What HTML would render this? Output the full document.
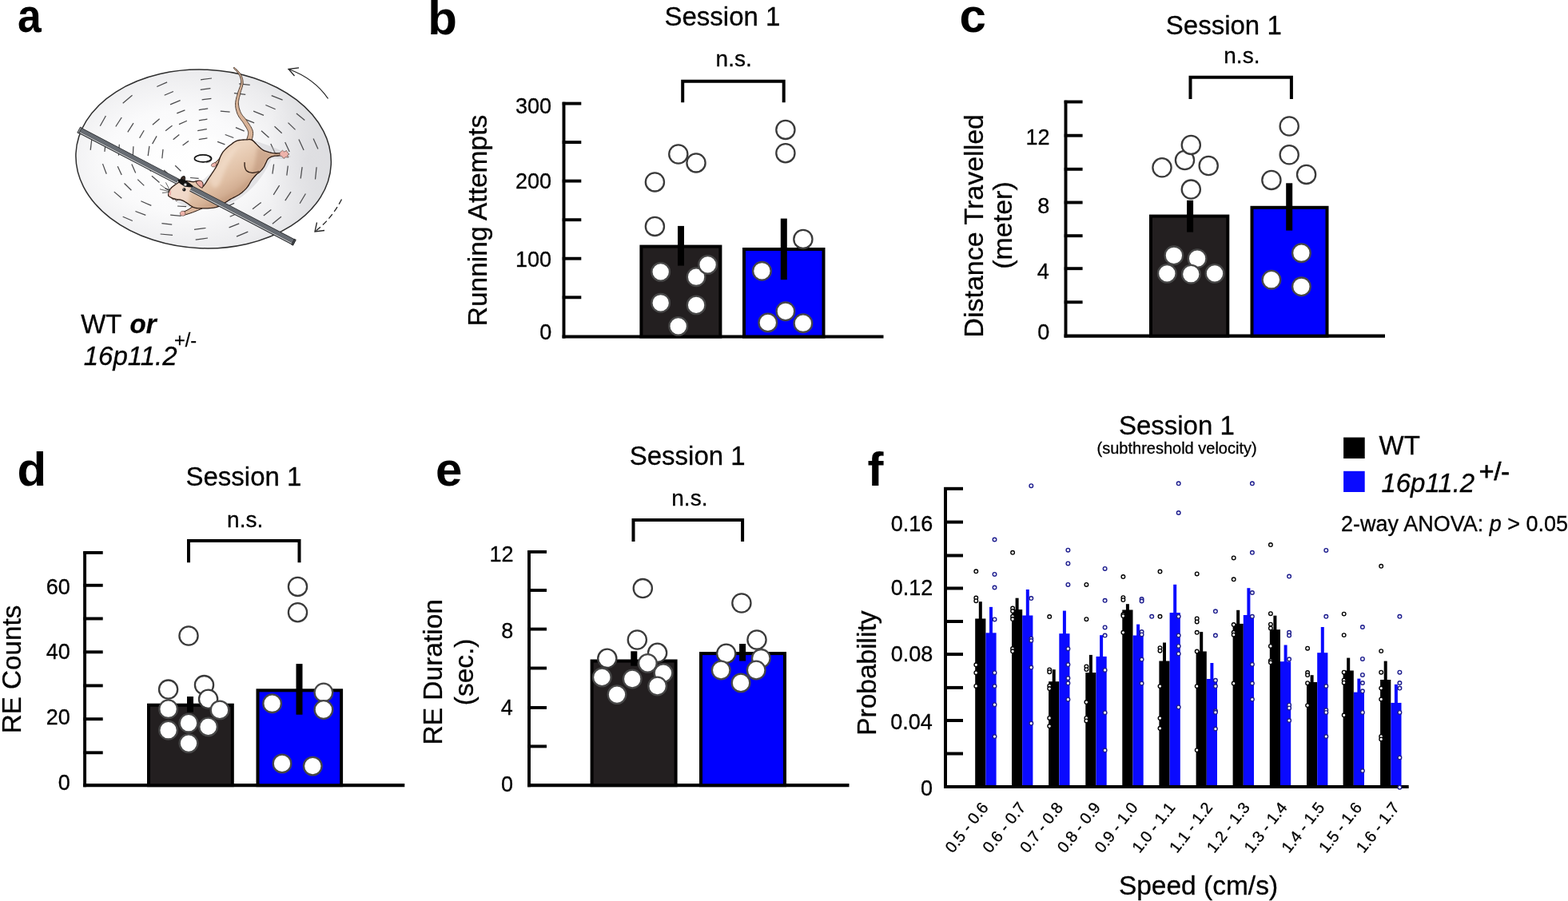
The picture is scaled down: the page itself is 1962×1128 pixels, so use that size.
<!DOCTYPE html>
<html><head><meta charset="utf-8"><title>Figure</title>
<style>html,body{margin:0;padding:0;background:#fff;} svg{display:block;} text{stroke:#000;stroke-width:0.3px;} text[font-weight="bold"]{stroke:none;}</style>
</head><body>
<svg width="1962" height="1128" viewBox="0 0 1962 1128" font-family="'Liberation Sans', Arial, Helvetica, sans-serif">
<rect width="1962" height="1128" fill="#fff"/>
<defs><radialGradient id="disc" cx="0.40" cy="0.52" r="0.70"><stop offset="0" stop-color="#ffffff"/><stop offset="0.4" stop-color="#fafafb"/><stop offset="0.72" stop-color="#ececee"/><stop offset="1" stop-color="#d8d9dc"/></radialGradient><radialGradient id="shadeR" cx="0.5" cy="0.5" r="0.5"><stop offset="0" stop-color="#c9c9ce" stop-opacity="0.55"/><stop offset="1" stop-color="#c9c9ce" stop-opacity="0"/></radialGradient><radialGradient id="halo" cx="0.5" cy="0.5" r="0.5"><stop offset="0" stop-color="#ffffff" stop-opacity="0.95"/><stop offset="1" stop-color="#ffffff" stop-opacity="0"/></radialGradient><linearGradient id="body" gradientUnits="userSpaceOnUse" x1="272" y1="200" x2="300" y2="248"><stop offset="0" stop-color="#ecd3bd"/><stop offset="0.5" stop-color="#dfbea3"/><stop offset="1" stop-color="#c79f83"/></linearGradient><linearGradient id="head" gradientUnits="userSpaceOnUse" x1="215" y1="235" x2="245" y2="258"><stop offset="0" stop-color="#f3dccd"/><stop offset="1" stop-color="#dcb9a0"/></linearGradient><linearGradient id="barg" gradientUnits="userSpaceOnUse" x1="0" y1="-3.4" x2="0" y2="3.4"><stop offset="0" stop-color="#2b2d30"/><stop offset="0.12" stop-color="#a3a6ab"/><stop offset="0.45" stop-color="#7d8086"/><stop offset="0.55" stop-color="#55585d"/><stop offset="0.85" stop-color="#474a4f"/><stop offset="1" stop-color="#1e1f22"/></linearGradient><filter id="blur2" x="-20%" y="-20%" width="140%" height="140%"><feGaussianBlur stdDeviation="2.2"/></filter><clipPath id="discclip"><ellipse cx="254.6" cy="199" rx="159.8" ry="111.8" transform="rotate(2.5 254.6 199)"/></clipPath></defs>
<ellipse cx="254.6" cy="199.0" rx="159.8" ry="111.8" transform="rotate(2.5 254.6 199.0)" fill="url(#disc)"/>
<g clip-path="url(#discclip)">
<ellipse cx="385" cy="200" rx="55" ry="100" fill="url(#shadeR)" opacity="0.7"/>
<ellipse cx="250" cy="205" rx="55" ry="45" fill="url(#halo)"/>
<line x1="248.8" y1="174.7" x2="259.4" y2="172.9" stroke="#4a4a4c" stroke-width="1.25"/>
<line x1="272.1" y1="177.4" x2="281.4" y2="180.9" stroke="#4a4a4c" stroke-width="1.25"/>
<line x1="287.9" y1="189.7" x2="291.8" y2="197.8" stroke="#4a4a4c" stroke-width="1.25"/>
<line x1="273.1" y1="220.1" x2="262.9" y2="224.7" stroke="#4a4a4c" stroke-width="1.25"/>
<line x1="248.6" y1="223.3" x2="238.0" y2="222.5" stroke="#4a4a4c" stroke-width="1.25"/>
<line x1="226.4" y1="214.3" x2="219.2" y2="207.3" stroke="#4a4a4c" stroke-width="1.25"/>
<line x1="228.6" y1="182.1" x2="236.0" y2="176.4" stroke="#4a4a4c" stroke-width="1.25"/>
<line x1="247.2" y1="163.6" x2="258.8" y2="161.6" stroke="#4a4a4c" stroke-width="1.25"/>
<line x1="281.7" y1="168.5" x2="292.3" y2="172.5" stroke="#4a4a4c" stroke-width="1.25"/>
<line x1="303.8" y1="187.9" x2="307.6" y2="196.7" stroke="#4a4a4c" stroke-width="1.25"/>
<line x1="303.2" y1="211.1" x2="297.8" y2="221.1" stroke="#4a4a4c" stroke-width="1.25"/>
<line x1="277.8" y1="230.9" x2="267.6" y2="235.3" stroke="#4a4a4c" stroke-width="1.25"/>
<line x1="242.8" y1="233.8" x2="231.2" y2="232.7" stroke="#4a4a4c" stroke-width="1.25"/>
<line x1="213.2" y1="220.5" x2="205.1" y2="212.9" stroke="#4a4a4c" stroke-width="1.25"/>
<line x1="202.8" y1="198.3" x2="204.0" y2="186.9" stroke="#4a4a4c" stroke-width="1.25"/>
<line x1="216.7" y1="174.7" x2="224.3" y2="168.4" stroke="#4a4a4c" stroke-width="1.25"/>
<line x1="248.9" y1="150.8" x2="259.4" y2="149.2" stroke="#4a4a4c" stroke-width="1.25"/>
<line x1="294.9" y1="159.6" x2="305.7" y2="164.1" stroke="#4a4a4c" stroke-width="1.25"/>
<line x1="311.9" y1="171.6" x2="320.6" y2="180.0" stroke="#4a4a4c" stroke-width="1.25"/>
<line x1="321.5" y1="185.6" x2="325.8" y2="196.1" stroke="#4a4a4c" stroke-width="1.25"/>
<line x1="323.9" y1="203.1" x2="322.4" y2="214.5" stroke="#4a4a4c" stroke-width="1.25"/>
<line x1="303.8" y1="233.0" x2="293.6" y2="241.0" stroke="#4a4a4c" stroke-width="1.25"/>
<line x1="282.1" y1="243.4" x2="271.6" y2="247.5" stroke="#4a4a4c" stroke-width="1.25"/>
<line x1="236.1" y1="245.6" x2="225.6" y2="244.6" stroke="#4a4a4c" stroke-width="1.25"/>
<line x1="216.5" y1="239.4" x2="206.6" y2="235.8" stroke="#4a4a4c" stroke-width="1.25"/>
<line x1="199.5" y1="228.4" x2="189.9" y2="220.3" stroke="#4a4a4c" stroke-width="1.25"/>
<line x1="188.6" y1="214.4" x2="183.6" y2="203.8" stroke="#4a4a4c" stroke-width="1.25"/>
<line x1="185.2" y1="195.2" x2="186.9" y2="182.8" stroke="#4a4a4c" stroke-width="1.25"/>
<line x1="190.6" y1="180.1" x2="196.1" y2="170.4" stroke="#4a4a4c" stroke-width="1.25"/>
<line x1="207.1" y1="163.7" x2="215.5" y2="157.3" stroke="#4a4a4c" stroke-width="1.25"/>
<line x1="224.0" y1="155.6" x2="233.9" y2="151.2" stroke="#4a4a4c" stroke-width="1.25"/>
<line x1="248.8" y1="137.6" x2="260.2" y2="135.8" stroke="#4a4a4c" stroke-width="1.25"/>
<line x1="275.8" y1="139.2" x2="287.6" y2="140.1" stroke="#4a4a4c" stroke-width="1.25"/>
<line x1="306.3" y1="149.1" x2="318.1" y2="153.9" stroke="#4a4a4c" stroke-width="1.25"/>
<line x1="327.0" y1="163.7" x2="336.5" y2="172.2" stroke="#4a4a4c" stroke-width="1.25"/>
<line x1="338.8" y1="180.1" x2="344.4" y2="191.9" stroke="#4a4a4c" stroke-width="1.25"/>
<line x1="342.6" y1="205.7" x2="340.9" y2="217.6" stroke="#4a4a4c" stroke-width="1.25"/>
<line x1="293.1" y1="254.4" x2="282.8" y2="259.1" stroke="#4a4a4c" stroke-width="1.25"/>
<line x1="233.1" y1="258.7" x2="222.0" y2="258.0" stroke="#4a4a4c" stroke-width="1.25"/>
<line x1="180.3" y1="232.4" x2="172.2" y2="224.6" stroke="#4a4a4c" stroke-width="1.25"/>
<line x1="169.7" y1="216.4" x2="164.8" y2="205.6" stroke="#4a4a4c" stroke-width="1.25"/>
<line x1="166.2" y1="196.8" x2="166.9" y2="183.2" stroke="#4a4a4c" stroke-width="1.25"/>
<line x1="174.6" y1="172.8" x2="180.2" y2="163.2" stroke="#4a4a4c" stroke-width="1.25"/>
<line x1="190.9" y1="156.3" x2="199.6" y2="148.8" stroke="#4a4a4c" stroke-width="1.25"/>
<line x1="221.3" y1="141.9" x2="231.4" y2="137.9" stroke="#4a4a4c" stroke-width="1.25"/>
<line x1="252.6" y1="124.9" x2="264.4" y2="123.4" stroke="#4a4a4c" stroke-width="1.25"/>
<line x1="317.1" y1="139.1" x2="330.0" y2="144.3" stroke="#4a4a4c" stroke-width="1.25"/>
<line x1="343.5" y1="158.3" x2="352.7" y2="166.8" stroke="#4a4a4c" stroke-width="1.25"/>
<line x1="356.7" y1="178.1" x2="362.2" y2="189.9" stroke="#4a4a4c" stroke-width="1.25"/>
<line x1="360.3" y1="207.6" x2="358.8" y2="219.7" stroke="#4a4a4c" stroke-width="1.25"/>
<line x1="349.6" y1="232.2" x2="342.2" y2="243.9" stroke="#4a4a4c" stroke-width="1.25"/>
<line x1="326.7" y1="253.4" x2="316.0" y2="261.7" stroke="#4a4a4c" stroke-width="1.25"/>
<line x1="299.1" y1="266.3" x2="287.7" y2="271.3" stroke="#4a4a4c" stroke-width="1.25"/>
<line x1="226.5" y1="270.4" x2="213.1" y2="269.2" stroke="#4a4a4c" stroke-width="1.25"/>
<line x1="189.3" y1="257.4" x2="176.4" y2="251.7" stroke="#4a4a4c" stroke-width="1.25"/>
<line x1="164.4" y1="238.3" x2="155.5" y2="229.5" stroke="#4a4a4c" stroke-width="1.25"/>
<line x1="152.2" y1="219.1" x2="147.2" y2="208.2" stroke="#4a4a4c" stroke-width="1.25"/>
<line x1="148.4" y1="194.7" x2="149.3" y2="180.8" stroke="#4a4a4c" stroke-width="1.25"/>
<line x1="159.8" y1="165.4" x2="167.0" y2="154.2" stroke="#4a4a4c" stroke-width="1.25"/>
<line x1="213.0" y1="130.9" x2="225.6" y2="125.7" stroke="#4a4a4c" stroke-width="1.25"/>
<line x1="250.8" y1="112.4" x2="263.4" y2="110.7" stroke="#4a4a4c" stroke-width="1.25"/>
<line x1="292.9" y1="116.7" x2="307.2" y2="118.3" stroke="#4a4a4c" stroke-width="1.25"/>
<line x1="332.4" y1="131.5" x2="344.6" y2="136.8" stroke="#4a4a4c" stroke-width="1.25"/>
<line x1="360.5" y1="153.6" x2="369.5" y2="162.4" stroke="#4a4a4c" stroke-width="1.25"/>
<line x1="373.9" y1="174.6" x2="380.1" y2="187.9" stroke="#4a4a4c" stroke-width="1.25"/>
<line x1="378.1" y1="209.1" x2="376.2" y2="223.5" stroke="#4a4a4c" stroke-width="1.25"/>
<line x1="364.0" y1="240.1" x2="356.8" y2="251.1" stroke="#4a4a4c" stroke-width="1.25"/>
<line x1="339.3" y1="262.4" x2="329.8" y2="270.1" stroke="#4a4a4c" stroke-width="1.25"/>
<line x1="299.2" y1="279.8" x2="286.6" y2="284.8" stroke="#4a4a4c" stroke-width="1.25"/>
<line x1="257.5" y1="285.5" x2="243.0" y2="287.4" stroke="#4a4a4c" stroke-width="1.25"/>
<line x1="215.2" y1="281.2" x2="202.4" y2="279.7" stroke="#4a4a4c" stroke-width="1.25"/>
<line x1="182.3" y1="269.4" x2="169.4" y2="264.5" stroke="#4a4a4c" stroke-width="1.25"/>
<line x1="152.3" y1="248.3" x2="142.8" y2="240.1" stroke="#4a4a4c" stroke-width="1.25"/>
<line x1="133.2" y1="217.7" x2="128.5" y2="205.1" stroke="#4a4a4c" stroke-width="1.25"/>
<line x1="130.9" y1="189.9" x2="132.4" y2="176.6" stroke="#4a4a4c" stroke-width="1.25"/>
<line x1="144.8" y1="158.5" x2="152.2" y2="147.0" stroke="#4a4a4c" stroke-width="1.25"/>
<line x1="205.7" y1="119.3" x2="216.9" y2="114.5" stroke="#4a4a4c" stroke-width="1.25"/>
<line x1="251.0" y1="99.9" x2="265.0" y2="98.0" stroke="#4a4a4c" stroke-width="1.25"/>
<line x1="299.1" y1="104.8" x2="312.7" y2="106.3" stroke="#4a4a4c" stroke-width="1.25"/>
<line x1="339.7" y1="119.6" x2="353.6" y2="125.2" stroke="#4a4a4c" stroke-width="1.25"/>
<line x1="370.9" y1="141.9" x2="381.3" y2="150.6" stroke="#4a4a4c" stroke-width="1.25"/>
<line x1="392.1" y1="173.4" x2="397.9" y2="186.4" stroke="#4a4a4c" stroke-width="1.25"/>
<line x1="396.1" y1="209.2" x2="394.5" y2="224.5" stroke="#4a4a4c" stroke-width="1.25"/>
<line x1="382.4" y1="242.5" x2="375.1" y2="254.8" stroke="#4a4a4c" stroke-width="1.25"/>
<line x1="351.9" y1="271.3" x2="340.9" y2="280.2" stroke="#4a4a4c" stroke-width="1.25"/>
<line x1="310.3" y1="290.2" x2="296.0" y2="296.1" stroke="#4a4a4c" stroke-width="1.25"/>
<line x1="260.0" y1="298.0" x2="244.7" y2="300.2" stroke="#4a4a4c" stroke-width="1.25"/>
<line x1="216.0" y1="294.4" x2="200.6" y2="293.0" stroke="#4a4a4c" stroke-width="1.25"/>
<line x1="165.8" y1="276.5" x2="153.7" y2="271.3" stroke="#4a4a4c" stroke-width="1.25"/>
<line x1="113.2" y1="187.9" x2="115.0" y2="172.7" stroke="#4a4a4c" stroke-width="1.25"/>
<line x1="125.3" y1="157.8" x2="132.4" y2="145.0" stroke="#4a4a4c" stroke-width="1.25"/>
<line x1="153.7" y1="129.2" x2="165.5" y2="119.2" stroke="#4a4a4c" stroke-width="1.25"/>
<line x1="196.3" y1="108.5" x2="209.1" y2="102.9" stroke="#4a4a4c" stroke-width="1.25"/>
</g>
<ellipse cx="254.6" cy="199.0" rx="159.8" ry="111.8" transform="rotate(2.5 254.6 199.0)" fill="none" stroke="#2e2e2e" stroke-width="1.5"/>
<path d="M410.5 123.5 Q393 98 361 86.5" fill="none" stroke="#222" stroke-width="1.3"/>
<path d="M374 84.8 L361 86.5 L368.5 95" fill="none" stroke="#222" stroke-width="1.3"/>
<path d="M427.5 249.5 Q415 274 394 290" fill="none" stroke="#222" stroke-width="1.3" stroke-dasharray="7 4"/>
<path d="M396.5 278.5 L394 290 L406 288.5" fill="none" stroke="#222" stroke-width="1.3"/>
<path d="M216 250 C240 266 275 266 303 246 C322 232 333 214 340 198 C350 199 360 200 364 196 C350 186 330 180 318 176 C300 180 285 190 270 210 C250 232 232 240 216 250Z" fill="#b9b9bf" opacity="0.35" filter="none"/>
<path d="M314.7 177.2 L314.8 176.6 L315.0 175.8 L315.2 174.8 L315.6 173.6 L315.9 172.3 L316.2 170.8 L316.5 169.3 L316.6 167.7 L316.6 166.1 L316.4 164.5 L316.0 163.0 L315.4 161.5 L314.7 160.1 L314.0 158.8 L313.2 157.5 L312.4 156.2 L311.5 155.0 L310.7 153.8 L309.9 152.7 L309.2 151.6 L308.4 150.4 L307.5 149.3 L306.6 148.2 L305.8 147.2 L304.9 146.2 L304.1 145.3 L303.4 144.4 L302.7 143.4 L302.1 142.5 L301.6 141.5 L301.1 140.5 L300.6 139.4 L300.2 138.2 L299.8 137.1 L299.4 135.9 L299.1 134.7 L298.9 133.5 L298.7 132.3 L298.5 131.1 L298.4 130.0 L298.4 128.8 L298.5 127.6 L298.6 126.4 L298.8 125.2 L299.1 123.9 L299.3 122.7 L299.6 121.4 L300.0 120.0 L300.3 118.7 L300.6 117.4 L300.9 116.1 L301.3 114.8 L301.7 113.5 L302.1 112.2 L302.6 110.8 L303.0 109.5 L303.4 108.1 L303.7 106.7 L304.0 105.4 L304.1 104.1 L304.1 102.9 L304.0 101.7 L303.9 100.5 L303.7 99.4 L303.4 98.3 L303.1 97.3 L302.7 96.2 L302.3 95.2 L301.8 94.2 L301.3 93.2 L300.6 92.2 L299.8 91.1 L298.9 90.1 L297.9 89.0 L296.9 88.0 L296.0 87.0 L295.1 86.2 L294.3 85.4 L293.6 84.8 L293.1 84.3 L292.1 85.1 L292.6 85.7 L293.2 86.4 L294.0 87.2 L294.9 88.1 L295.8 89.1 L296.7 90.1 L297.5 91.2 L298.3 92.2 L299.0 93.2 L299.5 94.2 L300.0 95.1 L300.4 96.0 L300.7 97.0 L301.0 97.9 L301.2 98.9 L301.4 99.8 L301.5 100.8 L301.6 101.8 L301.6 102.9 L301.5 103.9 L301.3 105.0 L301.1 106.1 L300.7 107.3 L300.3 108.6 L299.8 109.8 L299.3 111.2 L298.8 112.5 L298.3 113.9 L297.8 115.2 L297.4 116.6 L297.1 117.9 L296.7 119.2 L296.3 120.5 L295.9 121.8 L295.6 123.1 L295.3 124.5 L295.0 125.8 L294.8 127.2 L294.6 128.6 L294.6 130.0 L294.6 131.4 L294.7 132.8 L294.8 134.2 L295.0 135.5 L295.3 136.9 L295.7 138.3 L296.0 139.6 L296.5 140.9 L296.9 142.2 L297.4 143.5 L298.1 144.7 L298.8 146.0 L299.5 147.1 L300.3 148.2 L301.1 149.3 L301.9 150.4 L302.7 151.4 L303.5 152.4 L304.2 153.4 L304.8 154.4 L305.5 155.6 L306.3 156.8 L307.0 158.0 L307.8 159.2 L308.5 160.4 L309.1 161.5 L309.7 162.6 L310.1 163.7 L310.4 164.7 L310.6 165.5 L310.7 166.4 L310.6 167.3 L310.5 168.4 L310.2 169.6 L309.9 170.7 L309.6 171.9 L309.2 173.0 L308.9 174.0 L308.5 175.0 L308.3 175.8Z" fill="#d8b398" stroke="#3a2a20" stroke-width="0.9"/>
<path d="M277.5 194 C275 198 272 201.5 269.5 203.5 L266 205.5 L267.5 208.5 L271 206.8 C274.5 204 278 200.5 280.5 197.5 Z" fill="#dcb79d" stroke="#2b1a12" stroke-width="1"/>
<path d="M269.5 203.2 L265.3 205 L264.2 207.2 L265.5 208.8 L268.5 208.9 L271.2 206.7 Z" fill="#eeb3ab" stroke="#2b1a12" stroke-width="0.5"/>
<path d="M243 257 C239 260.5 235 263 231 264.6 L228 265.8 L228.5 269.5 L232.5 268.7 C238 267.2 245 264.5 253 261 Z" fill="#dcb79d" stroke="#2b1a12" stroke-width="1"/>
<path d="M231 264.4 L227.3 264.3 L225.2 266.5 L226 269.8 L229.5 270.3 L232.2 268.6 Z" fill="#eeb3ab" stroke="#2b1a12" stroke-width="0.5"/>
<path d="M210.6 243.6 L210.8 242.8 L211.0 241.5 L211.4 240.2 L211.8 239.0 L212.3 238.0 L212.9 237.0 L213.6 236.0 L214.5 235.0 L215.6 234.0 L216.9 232.9 L218.2 231.9 L219.5 231.0 L220.6 230.2 L221.8 229.5 L222.9 228.8 L224.0 228.2 L225.2 227.6 L226.3 227.1 L227.6 226.7 L229.0 226.4 L230.6 226.3 L232.4 226.4 L234.3 226.6 L236.0 226.8 L237.6 227.0 L239.2 227.3 L240.7 227.5 L242.0 227.6 L243.1 227.5 L244.1 227.2 L245.0 226.8 L246.0 226.6 L247.1 226.5 L248.3 226.4 L249.5 226.4 L250.5 226.6 L251.4 227.1 L252.1 227.8 L252.7 228.6 L253.2 229.5 L253.4 230.6 L253.5 231.9 L253.5 233.0 L253.8 233.5 L254.4 233.2 L255.1 232.4 L256.0 231.2 L257.0 229.8 L258.1 228.2 L259.3 226.2 L260.6 224.1 L262.0 222.0 L263.5 219.8 L265.0 217.5 L266.6 215.2 L268.0 213.0 L269.3 210.9 L270.6 208.8 L271.7 206.6 L272.8 204.5 L273.7 202.2 L274.4 199.9 L275.2 197.6 L276.0 195.5 L277.0 193.6 L278.0 191.8 L279.1 190.2 L280.4 188.6 L281.8 187.1 L283.2 185.7 L284.8 184.3 L286.6 182.8 L288.7 181.2 L291.0 179.4 L293.3 177.8 L295.5 176.6 L297.4 175.9 L299.2 175.5 L300.9 175.4 L302.6 175.2 L304.4 175.0 L306.3 174.9 L308.1 174.9 L309.6 174.8 L310.7 174.7 L311.5 174.6 L312.2 174.5 L313.0 174.6 L313.9 174.8 L314.7 175.1 L315.7 175.6 L316.7 176.3 L317.9 177.4 L319.1 178.7 L320.5 180.1 L322.0 181.6 L323.6 183.2 L325.3 184.8 L327.2 186.4 L329.1 187.8 L331.2 188.9 L333.6 189.7 L335.9 190.4 L338.0 191.0 L339.9 191.4 L341.7 191.7 L343.4 191.9 L345.0 192.0 L346.6 192.0 L348.2 191.9 L349.5 191.8 L350.5 192.0 L351.0 192.5 L351.2 193.3 L351.1 194.0 L350.5 194.6 L349.3 194.9 L347.5 195.0 L345.6 195.1 L344.0 195.2 L342.8 195.4 L341.8 195.6 L340.8 195.8 L339.8 196.2 L338.7 196.7 L337.5 197.3 L336.4 198.0 L335.4 198.9 L334.6 200.0 L333.9 201.3 L333.3 202.7 L332.7 204.0 L332.1 205.3 L331.5 206.6 L330.8 208.0 L330.0 209.3 L329.0 210.7 L328.0 212.0 L326.8 213.4 L325.6 214.6 L324.4 215.7 L323.1 216.6 L321.8 217.6 L320.5 218.8 L319.2 220.2 L317.8 221.8 L316.4 223.5 L315.0 225.3 L313.7 227.4 L312.4 229.7 L311.1 232.0 L309.6 234.1 L308.0 236.1 L306.2 237.9 L304.4 239.6 L302.6 241.2 L300.8 242.5 L299.1 243.7 L297.3 244.7 L295.5 245.7 L293.7 246.7 L291.9 247.6 L290.1 248.5 L288.4 249.4 L286.8 250.4 L285.4 251.3 L283.8 252.4 L282.0 253.5 L279.8 254.8 L277.4 256.3 L274.8 257.8 L272.3 258.9 L269.9 259.6 L267.4 260.1 L264.9 260.4 L262.4 260.6 L259.8 260.8 L257.1 260.8 L254.4 260.8 L252.0 260.8 L249.8 260.8 L247.7 260.7 L245.8 260.5 L244.0 260.2 L242.4 259.7 L241.1 259.1 L239.8 258.3 L238.5 257.5 L237.1 256.6 L235.8 255.6 L234.4 254.5 L233.0 253.6 L231.6 252.7 L230.2 251.9 L228.7 251.2 L227.3 250.6 L225.8 250.2 L224.3 250.0 L222.9 249.8 L221.5 249.6 L220.3 249.4 L219.1 249.1 L218.0 248.9 L217.0 248.6 L216.0 248.2 L215.1 247.8 L214.3 247.4 L213.5 247.0 L212.8 246.6 L212.1 246.2 L211.5 245.8 L211.0 245.4 L210.7 244.9 L210.6 244.4 L210.6 243.9 L210.6 243.6Z" fill="url(#body)"/>
<clipPath id="bclip"><path d="M210.6 243.6 L210.8 242.8 L211.0 241.5 L211.4 240.2 L211.8 239.0 L212.3 238.0 L212.9 237.0 L213.6 236.0 L214.5 235.0 L215.6 234.0 L216.9 232.9 L218.2 231.9 L219.5 231.0 L220.6 230.2 L221.8 229.5 L222.9 228.8 L224.0 228.2 L225.2 227.6 L226.3 227.1 L227.6 226.7 L229.0 226.4 L230.6 226.3 L232.4 226.4 L234.3 226.6 L236.0 226.8 L237.6 227.0 L239.2 227.3 L240.7 227.5 L242.0 227.6 L243.1 227.5 L244.1 227.2 L245.0 226.8 L246.0 226.6 L247.1 226.5 L248.3 226.4 L249.5 226.4 L250.5 226.6 L251.4 227.1 L252.1 227.8 L252.7 228.6 L253.2 229.5 L253.4 230.6 L253.5 231.9 L253.5 233.0 L253.8 233.5 L254.4 233.2 L255.1 232.4 L256.0 231.2 L257.0 229.8 L258.1 228.2 L259.3 226.2 L260.6 224.1 L262.0 222.0 L263.5 219.8 L265.0 217.5 L266.6 215.2 L268.0 213.0 L269.3 210.9 L270.6 208.8 L271.7 206.6 L272.8 204.5 L273.7 202.2 L274.4 199.9 L275.2 197.6 L276.0 195.5 L277.0 193.6 L278.0 191.8 L279.1 190.2 L280.4 188.6 L281.8 187.1 L283.2 185.7 L284.8 184.3 L286.6 182.8 L288.7 181.2 L291.0 179.4 L293.3 177.8 L295.5 176.6 L297.4 175.9 L299.2 175.5 L300.9 175.4 L302.6 175.2 L304.4 175.0 L306.3 174.9 L308.1 174.9 L309.6 174.8 L310.7 174.7 L311.5 174.6 L312.2 174.5 L313.0 174.6 L313.9 174.8 L314.7 175.1 L315.7 175.6 L316.7 176.3 L317.9 177.4 L319.1 178.7 L320.5 180.1 L322.0 181.6 L323.6 183.2 L325.3 184.8 L327.2 186.4 L329.1 187.8 L331.2 188.9 L333.6 189.7 L335.9 190.4 L338.0 191.0 L339.9 191.4 L341.7 191.7 L343.4 191.9 L345.0 192.0 L346.6 192.0 L348.2 191.9 L349.5 191.8 L350.5 192.0 L351.0 192.5 L351.2 193.3 L351.1 194.0 L350.5 194.6 L349.3 194.9 L347.5 195.0 L345.6 195.1 L344.0 195.2 L342.8 195.4 L341.8 195.6 L340.8 195.8 L339.8 196.2 L338.7 196.7 L337.5 197.3 L336.4 198.0 L335.4 198.9 L334.6 200.0 L333.9 201.3 L333.3 202.7 L332.7 204.0 L332.1 205.3 L331.5 206.6 L330.8 208.0 L330.0 209.3 L329.0 210.7 L328.0 212.0 L326.8 213.4 L325.6 214.6 L324.4 215.7 L323.1 216.6 L321.8 217.6 L320.5 218.8 L319.2 220.2 L317.8 221.8 L316.4 223.5 L315.0 225.3 L313.7 227.4 L312.4 229.7 L311.1 232.0 L309.6 234.1 L308.0 236.1 L306.2 237.9 L304.4 239.6 L302.6 241.2 L300.8 242.5 L299.1 243.7 L297.3 244.7 L295.5 245.7 L293.7 246.7 L291.9 247.6 L290.1 248.5 L288.4 249.4 L286.8 250.4 L285.4 251.3 L283.8 252.4 L282.0 253.5 L279.8 254.8 L277.4 256.3 L274.8 257.8 L272.3 258.9 L269.9 259.6 L267.4 260.1 L264.9 260.4 L262.4 260.6 L259.8 260.8 L257.1 260.8 L254.4 260.8 L252.0 260.8 L249.8 260.8 L247.7 260.7 L245.8 260.5 L244.0 260.2 L242.4 259.7 L241.1 259.1 L239.8 258.3 L238.5 257.5 L237.1 256.6 L235.8 255.6 L234.4 254.5 L233.0 253.6 L231.6 252.7 L230.2 251.9 L228.7 251.2 L227.3 250.6 L225.8 250.2 L224.3 250.0 L222.9 249.8 L221.5 249.6 L220.3 249.4 L219.1 249.1 L218.0 248.9 L217.0 248.6 L216.0 248.2 L215.1 247.8 L214.3 247.4 L213.5 247.0 L212.8 246.6 L212.1 246.2 L211.5 245.8 L211.0 245.4 L210.7 244.9 L210.6 244.4 L210.6 243.9 L210.6 243.6Z"/></clipPath>
<g clip-path="url(#bclip)"><g filter="url(#blur2)">
<path d="M322 184 C332 190 340 192 349 193 L349 194.5 C340 196 334 199 331 206 C328 213 322 218 315 221 C318 210 320 198 322 184Z" fill="#b98f73" opacity="0.45"/>
<path d="M309.6 234.1 C302 241 292 248 282 253.5 C272 259 258 261 246 260.5 C262 255 280 249 296 238 C304 232 310 226 315 220 Z" fill="#b98f73" opacity="0.35"/>
<path d="M262 224 C272 208 284 190 300 180 C290 195 282 210 276 228 C272 236 266 240 262 224Z" fill="#f4dfcd" opacity="0.6"/>
<path d="M209 243 C210 238.5 214 233.5 219 230 C226 226 232 225 237 226.5 C239 236 238 247 235 255 C229 253 223 251 217 250 C213 249 210 246 209 243Z" fill="#f4ddd0" opacity="0.8"/>
</g></g>
<path d="M210.6 243.6 L210.8 242.8 L211.0 241.5 L211.4 240.2 L211.8 239.0 L212.3 238.0 L212.9 237.0 L213.6 236.0 L214.5 235.0 L215.6 234.0 L216.9 232.9 L218.2 231.9 L219.5 231.0 L220.6 230.2 L221.8 229.5 L222.9 228.8 L224.0 228.2 L225.2 227.6 L226.3 227.1 L227.6 226.7 L229.0 226.4 L230.6 226.3 L232.4 226.4 L234.3 226.6 L236.0 226.8 L237.6 227.0 L239.2 227.3 L240.7 227.5 L242.0 227.6 L243.1 227.5 L244.1 227.2 L245.0 226.8 L246.0 226.6 L247.1 226.5 L248.3 226.4 L249.5 226.4 L250.5 226.6 L251.4 227.1 L252.1 227.8 L252.7 228.6 L253.2 229.5 L253.4 230.6 L253.5 231.9 L253.5 233.0 L253.8 233.5 L254.4 233.2 L255.1 232.4 L256.0 231.2 L257.0 229.8 L258.1 228.2 L259.3 226.2 L260.6 224.1 L262.0 222.0 L263.5 219.8 L265.0 217.5 L266.6 215.2 L268.0 213.0 L269.3 210.9 L270.6 208.8 L271.7 206.6 L272.8 204.5 L273.7 202.2 L274.4 199.9 L275.2 197.6 L276.0 195.5 L277.0 193.6 L278.0 191.8 L279.1 190.2 L280.4 188.6 L281.8 187.1 L283.2 185.7 L284.8 184.3 L286.6 182.8 L288.7 181.2 L291.0 179.4 L293.3 177.8 L295.5 176.6 L297.4 175.9 L299.2 175.5 L300.9 175.4 L302.6 175.2 L304.4 175.0 L306.3 174.9 L308.1 174.9 L309.6 174.8 L310.7 174.7 L311.5 174.6 L312.2 174.5 L313.0 174.6 L313.9 174.8 L314.7 175.1 L315.7 175.6 L316.7 176.3 L317.9 177.4 L319.1 178.7 L320.5 180.1 L322.0 181.6 L323.6 183.2 L325.3 184.8 L327.2 186.4 L329.1 187.8 L331.2 188.9 L333.6 189.7 L335.9 190.4 L338.0 191.0 L339.9 191.4 L341.7 191.7 L343.4 191.9 L345.0 192.0 L346.6 192.0 L348.2 191.9 L349.5 191.8 L350.5 192.0 L351.0 192.5 L351.2 193.3 L351.1 194.0 L350.5 194.6 L349.3 194.9 L347.5 195.0 L345.6 195.1 L344.0 195.2 L342.8 195.4 L341.8 195.6 L340.8 195.8 L339.8 196.2 L338.7 196.7 L337.5 197.3 L336.4 198.0 L335.4 198.9 L334.6 200.0 L333.9 201.3 L333.3 202.7 L332.7 204.0 L332.1 205.3 L331.5 206.6 L330.8 208.0 L330.0 209.3 L329.0 210.7 L328.0 212.0 L326.8 213.4 L325.6 214.6 L324.4 215.7 L323.1 216.6 L321.8 217.6 L320.5 218.8 L319.2 220.2 L317.8 221.8 L316.4 223.5 L315.0 225.3 L313.7 227.4 L312.4 229.7 L311.1 232.0 L309.6 234.1 L308.0 236.1 L306.2 237.9 L304.4 239.6 L302.6 241.2 L300.8 242.5 L299.1 243.7 L297.3 244.7 L295.5 245.7 L293.7 246.7 L291.9 247.6 L290.1 248.5 L288.4 249.4 L286.8 250.4 L285.4 251.3 L283.8 252.4 L282.0 253.5 L279.8 254.8 L277.4 256.3 L274.8 257.8 L272.3 258.9 L269.9 259.6 L267.4 260.1 L264.9 260.4 L262.4 260.6 L259.8 260.8 L257.1 260.8 L254.4 260.8 L252.0 260.8 L249.8 260.8 L247.7 260.7 L245.8 260.5 L244.0 260.2 L242.4 259.7 L241.1 259.1 L239.8 258.3 L238.5 257.5 L237.1 256.6 L235.8 255.6 L234.4 254.5 L233.0 253.6 L231.6 252.7 L230.2 251.9 L228.7 251.2 L227.3 250.6 L225.8 250.2 L224.3 250.0 L222.9 249.8 L221.5 249.6 L220.3 249.4 L219.1 249.1 L218.0 248.9 L217.0 248.6 L216.0 248.2 L215.1 247.8 L214.3 247.4 L213.5 247.0 L212.8 246.6 L212.1 246.2 L211.5 245.8 L211.0 245.4 L210.7 244.9 L210.6 244.4 L210.6 243.9 L210.6 243.6Z" fill="none" stroke="#2b1a12" stroke-width="1.3" stroke-linejoin="round"/>
<path d="M350 191.3 L353.5 188.2 L355.5 190 L358.5 188.5 L360 191.5 L362 193 L359.5 194.5 L361 197 L357.5 196.5 L355 198.5 L352.5 195.6 L350 195 Z" fill="#eeb3ab" stroke="#2b1a12" stroke-width="0.5"/>
<path d="M210.8 243 C211.3 240.5 212.3 239 213.6 238.3 C214.5 240.5 214.2 243.5 212.8 246 Z" fill="#e9a9a2"/>
<path d="M306.1 203.1 C305.8 208 306.5 211.5 308.5 213.8 C311 216.3 314.5 216.8 318 216.2 C320.5 215.8 322.5 215.2 324 214.5" fill="none" stroke="#2b1a12" stroke-width="1.3"/>
<path d="M245.2 228 C247 225.6 251 225.4 253 227.6 C254.6 229.8 254.4 233.3 253.2 235.4 C250.3 234.5 247.4 231.8 245.2 228Z" fill="#e9a8a0" stroke="#2b1a12" stroke-width="0.9"/>
<circle cx="230.4" cy="237.4" r="2.1" fill="#111"/><circle cx="229.9" cy="236.8" r="0.6" fill="#fff"/>
<line x1="211.5" y1="238.8" x2="200.5" y2="231.2" stroke="#222" stroke-width="0.7"/>
<line x1="211.5" y1="239.6" x2="200.0" y2="236.8" stroke="#222" stroke-width="0.7"/>
<line x1="212.5" y1="238.0" x2="207.4" y2="228.4" stroke="#222" stroke-width="0.7"/>
<line x1="212" y1="240.5" x2="203" y2="241.5" stroke="#222" stroke-width="0.7"/>
<path d="M214 247.2 L216.5 250 L218.5 248.5 L220.5 251.5 L223 250" fill="none" stroke="#2b1a12" stroke-width="0.8"/>
<g transform="translate(99.00 162.78) rotate(27.609)"><rect x="0" y="-3.9" width="138.81" height="7.8" fill="#26282b"/><rect x="0" y="-3.2" width="138.81" height="4.6" fill="#676c73"/><rect x="0" y="1.6" width="138.81" height="1.3" fill="#c9cbce"/></g>
<g transform="translate(239.00 236.00) rotate(27.609)"><rect x="0" y="-3.9" width="146.14" height="7.8" fill="#26282b"/><rect x="0" y="-3.2" width="146.14" height="4.6" fill="#676c73"/><rect x="0" y="1.6" width="146.14" height="1.3" fill="#c9cbce"/></g>
<g transform="translate(98.6 162.6) rotate(27.609)"><rect x="0" y="-3.9" width="2.2" height="7.8" fill="#8d9094" stroke="#1c1d1f" stroke-width="0.7"/></g>
<g transform="translate(366.5 302.7) rotate(27.609)"><rect x="0" y="-3.9" width="2.2" height="7.8" fill="#45484c" stroke="#1c1d1f" stroke-width="0.7"/></g>
<path d="M226.2 224.8 C226.5 221.5 228.5 220.2 231 220.6 C232 222.5 232 224.5 231.2 226 Z" fill="#3a2a24" stroke="#111" stroke-width="0.8"/>
<path d="M222.5 224.5 L228 224 L233 226.5 L238 229.8 L241.5 232.5 L240.5 234.6 L236 234.2 L231 233.6 L226.5 230.8 L223 228 Z" fill="#121212"/>
<circle cx="231.9" cy="231.2" r="2.1" fill="#dadada" stroke="#111" stroke-width="0.8"/>
<path d="M262 196 C266 199 264 202.5 258 203.2" fill="none" stroke="#888" stroke-width="2.2"/>
<ellipse cx="254" cy="198.4" rx="10.6" ry="4.5" fill="none" stroke="#111" stroke-width="1.6"/>
<text x="0" y="0" font-size="60" font-weight="bold" transform="translate(21.9 40.3) scale(0.89 1)">a</text>
<text x="101.13" y="417.4" font-size="33">WT <tspan dx="1.5" font-weight="bold" font-style="italic">or</tspan></text>
<text x="104.77" y="456.70" font-size="33" text-anchor="start" font-style="italic" fill="#000">16p11.2</text>
<text x="217.92" y="433.50" font-size="23.5" text-anchor="start" fill="#000">+/-</text>
<line x1="705.50" y1="127.80" x2="705.50" y2="423.50" stroke="#000" stroke-width="3.9" stroke-linecap="butt"/>
<line x1="703.70" y1="129.60" x2="727.30" y2="129.60" stroke="#000" stroke-width="3.9" stroke-linecap="butt"/>
<line x1="703.70" y1="178.10" x2="727.30" y2="178.10" stroke="#000" stroke-width="3.9" stroke-linecap="butt"/>
<line x1="703.70" y1="226.60" x2="727.30" y2="226.60" stroke="#000" stroke-width="3.9" stroke-linecap="butt"/>
<line x1="703.70" y1="275.20" x2="727.30" y2="275.20" stroke="#000" stroke-width="3.9" stroke-linecap="butt"/>
<line x1="703.70" y1="323.70" x2="727.30" y2="323.70" stroke="#000" stroke-width="3.9" stroke-linecap="butt"/>
<line x1="703.70" y1="372.30" x2="727.30" y2="372.30" stroke="#000" stroke-width="3.9" stroke-linecap="butt"/>
<line x1="703.55" y1="421.50" x2="1105.50" y2="421.50" stroke="#000" stroke-width="4.2" stroke-linecap="butt"/>
<text x="645.09" y="141.50" font-size="27" text-anchor="start" fill="#000">300</text>
<text x="645.09" y="236.30" font-size="27" text-anchor="start" fill="#000">200</text>
<text x="645.09" y="333.80" font-size="27" text-anchor="start" fill="#000">100</text>
<text x="675.13" y="425.30" font-size="27" text-anchor="start" fill="#000">0</text>
<rect x="802.40" y="308.60" width="99.00" height="112.90" fill="#231f20" stroke="#000" stroke-width="4"/>
<rect x="931.00" y="312.00" width="99.50" height="109.50" fill="#0000ff" stroke="#000" stroke-width="4"/>
<rect x="848.00" y="282.90" width="8.00" height="49.70" fill="#000"/>
<rect x="976.80" y="273.60" width="8.00" height="76.60" fill="#000"/>
<circle cx="819.40" cy="227.90" r="11.60" fill="#fff" stroke="#3a3a3a" stroke-width="2.3"/>
<circle cx="848.80" cy="193.00" r="11.60" fill="#fff" stroke="#3a3a3a" stroke-width="2.3"/>
<circle cx="871.00" cy="203.90" r="11.60" fill="#fff" stroke="#3a3a3a" stroke-width="2.3"/>
<circle cx="819.40" cy="283.40" r="11.60" fill="#fff" stroke="#3a3a3a" stroke-width="2.3"/>
<circle cx="826.70" cy="340.40" r="11.30" fill="#fff" stroke="#474747" stroke-width="2.3"/>
<circle cx="871.10" cy="346.70" r="11.30" fill="#fff" stroke="#474747" stroke-width="2.3"/>
<circle cx="885.60" cy="331.40" r="11.30" fill="#fff" stroke="#474747" stroke-width="2.3"/>
<circle cx="826.70" cy="379.30" r="11.30" fill="#fff" stroke="#474747" stroke-width="2.3"/>
<circle cx="871.10" cy="381.90" r="11.30" fill="#fff" stroke="#474747" stroke-width="2.3"/>
<circle cx="848.70" cy="408.40" r="11.30" fill="#fff" stroke="#474747" stroke-width="2.3"/>
<circle cx="982.90" cy="162.40" r="11.60" fill="#fff" stroke="#3a3a3a" stroke-width="2.3"/>
<circle cx="982.90" cy="191.70" r="11.60" fill="#fff" stroke="#3a3a3a" stroke-width="2.3"/>
<circle cx="1004.90" cy="299.40" r="11.60" fill="#fff" stroke="#3a3a3a" stroke-width="2.3"/>
<circle cx="953.40" cy="339.30" r="11.30" fill="#fff" stroke="#474747" stroke-width="2.3"/>
<circle cx="982.90" cy="389.80" r="11.30" fill="#fff" stroke="#474747" stroke-width="2.3"/>
<circle cx="960.80" cy="403.90" r="11.30" fill="#fff" stroke="#474747" stroke-width="2.3"/>
<circle cx="1004.90" cy="404.70" r="11.30" fill="#fff" stroke="#474747" stroke-width="2.3"/>
<path d="M854.20 128.20 V101.80 H980.70 V128.20" fill="none" stroke="#000" stroke-width="4"/>
<text x="895.61" y="83.40" font-size="28" text-anchor="start" fill="#000">n.s.</text>
<text x="831.51" y="31.90" font-size="33" text-anchor="start" fill="#000">Session 1</text>
<text x="535.20" y="42.80" font-size="60" text-anchor="start" font-weight="bold" fill="#000">b</text>
<text x="609.30" y="408.24" font-size="33.5" text-anchor="start" transform="rotate(-90 609.30 408.24)" fill="#000">Running Attempts</text>
<line x1="1333.50" y1="125.80" x2="1333.50" y2="422.60" stroke="#000" stroke-width="3.9" stroke-linecap="butt"/>
<line x1="1331.70" y1="127.50" x2="1354.60" y2="127.50" stroke="#000" stroke-width="3.9" stroke-linecap="butt"/>
<line x1="1331.70" y1="169.70" x2="1354.60" y2="169.70" stroke="#000" stroke-width="3.9" stroke-linecap="butt"/>
<line x1="1331.70" y1="211.80" x2="1354.60" y2="211.80" stroke="#000" stroke-width="3.9" stroke-linecap="butt"/>
<line x1="1331.70" y1="253.50" x2="1354.60" y2="253.50" stroke="#000" stroke-width="3.9" stroke-linecap="butt"/>
<line x1="1331.70" y1="295.20" x2="1354.60" y2="295.20" stroke="#000" stroke-width="3.9" stroke-linecap="butt"/>
<line x1="1331.70" y1="336.20" x2="1354.60" y2="336.20" stroke="#000" stroke-width="3.9" stroke-linecap="butt"/>
<line x1="1331.70" y1="378.30" x2="1354.60" y2="378.30" stroke="#000" stroke-width="3.9" stroke-linecap="butt"/>
<line x1="1331.55" y1="420.60" x2="1733.00" y2="420.60" stroke="#000" stroke-width="4.2" stroke-linecap="butt"/>
<text x="1283.48" y="181.00" font-size="27" text-anchor="start" fill="#000">12</text>
<text x="1298.26" y="266.60" font-size="27" text-anchor="start" fill="#000">8</text>
<text x="1297.86" y="348.90" font-size="27" text-anchor="start" fill="#000">4</text>
<text x="1298.13" y="424.80" font-size="27" text-anchor="start" fill="#000">0</text>
<rect x="1440.00" y="270.60" width="96.30" height="150.00" fill="#231f20" stroke="#000" stroke-width="4"/>
<rect x="1566.50" y="259.80" width="94.00" height="160.80" fill="#0000ff" stroke="#000" stroke-width="4"/>
<rect x="1485.10" y="250.80" width="8.00" height="39.80" fill="#000"/>
<rect x="1609.20" y="229.30" width="8.00" height="59.30" fill="#000"/>
<circle cx="1454.00" cy="209.80" r="11.60" fill="#fff" stroke="#3a3a3a" stroke-width="2.3"/>
<circle cx="1482.50" cy="200.50" r="11.60" fill="#fff" stroke="#3a3a3a" stroke-width="2.3"/>
<circle cx="1490.30" cy="181.40" r="11.60" fill="#fff" stroke="#3a3a3a" stroke-width="2.3"/>
<circle cx="1512.20" cy="207.50" r="11.60" fill="#fff" stroke="#3a3a3a" stroke-width="2.3"/>
<circle cx="1490.30" cy="237.10" r="11.60" fill="#fff" stroke="#3a3a3a" stroke-width="2.3"/>
<circle cx="1468.90" cy="319.80" r="11.30" fill="#fff" stroke="#474747" stroke-width="2.3"/>
<circle cx="1498.10" cy="323.70" r="11.30" fill="#fff" stroke="#474747" stroke-width="2.3"/>
<circle cx="1460.30" cy="342.40" r="11.30" fill="#fff" stroke="#474747" stroke-width="2.3"/>
<circle cx="1490.30" cy="343.20" r="11.30" fill="#fff" stroke="#474747" stroke-width="2.3"/>
<circle cx="1520.00" cy="342.40" r="11.30" fill="#fff" stroke="#474747" stroke-width="2.3"/>
<circle cx="1613.20" cy="158.00" r="11.60" fill="#fff" stroke="#3a3a3a" stroke-width="2.3"/>
<circle cx="1613.20" cy="193.80" r="11.60" fill="#fff" stroke="#3a3a3a" stroke-width="2.3"/>
<circle cx="1590.90" cy="225.40" r="11.60" fill="#fff" stroke="#3a3a3a" stroke-width="2.3"/>
<circle cx="1634.60" cy="218.40" r="11.60" fill="#fff" stroke="#3a3a3a" stroke-width="2.3"/>
<circle cx="1628.40" cy="316.70" r="11.30" fill="#fff" stroke="#474747" stroke-width="2.3"/>
<circle cx="1590.90" cy="350.20" r="11.30" fill="#fff" stroke="#474747" stroke-width="2.3"/>
<circle cx="1628.40" cy="358.80" r="11.30" fill="#fff" stroke="#474747" stroke-width="2.3"/>
<path d="M1489.50 124.00 V96.70 H1615.90 V124.00" fill="none" stroke="#000" stroke-width="4"/>
<text x="1531.31" y="79.20" font-size="28" text-anchor="start" fill="#000">n.s.</text>
<text x="1458.82" y="42.90" font-size="33" text-anchor="start" fill="#000">Session 1</text>
<text x="1200.60" y="40.30" font-size="60" text-anchor="start" font-weight="bold" fill="#000">c</text>
<text x="1229.60" y="422.66" font-size="34" text-anchor="start" transform="rotate(-90 1229.60 422.66)" fill="#000">Distance Travelled</text>
<text x="1265.60" y="336.78" font-size="34" text-anchor="start" transform="rotate(-90 1265.60 336.78)" fill="#000">(meter)</text>
<line x1="106.10" y1="690.20" x2="106.10" y2="985.20" stroke="#000" stroke-width="3.9" stroke-linecap="butt"/>
<line x1="104.30" y1="691.90" x2="128.70" y2="691.90" stroke="#000" stroke-width="3.9" stroke-linecap="butt"/>
<line x1="104.30" y1="732.80" x2="128.70" y2="732.80" stroke="#000" stroke-width="3.9" stroke-linecap="butt"/>
<line x1="104.30" y1="774.50" x2="128.70" y2="774.50" stroke="#000" stroke-width="3.9" stroke-linecap="butt"/>
<line x1="104.30" y1="816.30" x2="128.70" y2="816.30" stroke="#000" stroke-width="3.9" stroke-linecap="butt"/>
<line x1="104.30" y1="858.40" x2="128.70" y2="858.40" stroke="#000" stroke-width="3.9" stroke-linecap="butt"/>
<line x1="104.30" y1="900.20" x2="128.70" y2="900.20" stroke="#000" stroke-width="3.9" stroke-linecap="butt"/>
<line x1="104.30" y1="942.30" x2="128.70" y2="942.30" stroke="#000" stroke-width="3.9" stroke-linecap="butt"/>
<line x1="104.15" y1="983.20" x2="506.30" y2="983.20" stroke="#000" stroke-width="4.2" stroke-linecap="butt"/>
<text x="57.74" y="743.60" font-size="27" text-anchor="start" fill="#000">60</text>
<text x="57.74" y="825.00" font-size="27" text-anchor="start" fill="#000">40</text>
<text x="57.74" y="907.00" font-size="27" text-anchor="start" fill="#000">20</text>
<text x="72.73" y="988.70" font-size="27" text-anchor="start" fill="#000">0</text>
<rect x="186.00" y="882.70" width="104.80" height="100.50" fill="#231f20" stroke="#000" stroke-width="4"/>
<rect x="322.50" y="864.30" width="104.60" height="118.90" fill="#0000ff" stroke="#000" stroke-width="4"/>
<rect x="234.00" y="872.00" width="8.00" height="19.60" fill="#000"/>
<rect x="370.50" y="831.10" width="8.00" height="63.60" fill="#000"/>
<circle cx="236.00" cy="796.00" r="11.60" fill="#fff" stroke="#3a3a3a" stroke-width="2.3"/>
<circle cx="210.60" cy="863.10" r="11.60" fill="#fff" stroke="#3a3a3a" stroke-width="2.3"/>
<circle cx="255.50" cy="857.60" r="11.60" fill="#fff" stroke="#3a3a3a" stroke-width="2.3"/>
<circle cx="260.60" cy="875.20" r="11.60" fill="#fff" stroke="#3a3a3a" stroke-width="2.3"/>
<circle cx="210.60" cy="887.70" r="11.30" fill="#fff" stroke="#474747" stroke-width="2.3"/>
<circle cx="275.00" cy="888.90" r="11.30" fill="#fff" stroke="#474747" stroke-width="2.3"/>
<circle cx="210.60" cy="914.20" r="11.30" fill="#fff" stroke="#474747" stroke-width="2.3"/>
<circle cx="236.00" cy="905.20" r="11.30" fill="#fff" stroke="#474747" stroke-width="2.3"/>
<circle cx="260.60" cy="909.90" r="11.30" fill="#fff" stroke="#474747" stroke-width="2.3"/>
<circle cx="236.00" cy="930.60" r="11.30" fill="#fff" stroke="#474747" stroke-width="2.3"/>
<circle cx="372.50" cy="734.40" r="11.60" fill="#fff" stroke="#3a3a3a" stroke-width="2.3"/>
<circle cx="372.50" cy="766.70" r="11.60" fill="#fff" stroke="#3a3a3a" stroke-width="2.3"/>
<circle cx="340.60" cy="880.70" r="11.30" fill="#fff" stroke="#474747" stroke-width="2.3"/>
<circle cx="404.90" cy="867.00" r="11.30" fill="#fff" stroke="#474747" stroke-width="2.3"/>
<circle cx="404.90" cy="888.50" r="11.30" fill="#fff" stroke="#474747" stroke-width="2.3"/>
<circle cx="353.00" cy="955.90" r="11.30" fill="#fff" stroke="#474747" stroke-width="2.3"/>
<circle cx="391.30" cy="959.10" r="11.30" fill="#fff" stroke="#474747" stroke-width="2.3"/>
<path d="M236.00 704.30 V677.00 H374.50 V704.30" fill="none" stroke="#000" stroke-width="4"/>
<text x="284.11" y="659.50" font-size="28" text-anchor="start" fill="#000">n.s.</text>
<text x="232.51" y="607.60" font-size="33" text-anchor="start" fill="#000">Session 1</text>
<text x="21.60" y="607.70" font-size="60" text-anchor="start" font-weight="bold" fill="#000">d</text>
<text x="25.80" y="918.25" font-size="33.2" text-anchor="start" transform="rotate(-90 25.80 918.25)" fill="#000">RE Counts</text>
<line x1="662.00" y1="689.20" x2="662.00" y2="985.20" stroke="#000" stroke-width="3.9" stroke-linecap="butt"/>
<line x1="660.20" y1="690.90" x2="684.00" y2="690.90" stroke="#000" stroke-width="3.9" stroke-linecap="butt"/>
<line x1="660.20" y1="739.00" x2="684.00" y2="739.00" stroke="#000" stroke-width="3.9" stroke-linecap="butt"/>
<line x1="660.20" y1="787.60" x2="684.00" y2="787.60" stroke="#000" stroke-width="3.9" stroke-linecap="butt"/>
<line x1="660.20" y1="836.50" x2="684.00" y2="836.50" stroke="#000" stroke-width="3.9" stroke-linecap="butt"/>
<line x1="660.20" y1="885.90" x2="684.00" y2="885.90" stroke="#000" stroke-width="3.9" stroke-linecap="butt"/>
<line x1="660.20" y1="934.40" x2="684.00" y2="934.40" stroke="#000" stroke-width="3.9" stroke-linecap="butt"/>
<line x1="660.05" y1="983.20" x2="1062.50" y2="983.20" stroke="#000" stroke-width="4.2" stroke-linecap="butt"/>
<text x="612.38" y="702.60" font-size="27" text-anchor="start" fill="#000">12</text>
<text x="627.16" y="798.80" font-size="27" text-anchor="start" fill="#000">8</text>
<text x="626.76" y="894.80" font-size="27" text-anchor="start" fill="#000">4</text>
<text x="627.03" y="991.30" font-size="27" text-anchor="start" fill="#000">0</text>
<rect x="740.60" y="827.50" width="105.00" height="155.70" fill="#231f20" stroke="#000" stroke-width="4"/>
<rect x="877.00" y="818.10" width="105.00" height="165.10" fill="#0000ff" stroke="#000" stroke-width="4"/>
<rect x="789.30" y="815.30" width="8.00" height="18.40" fill="#000"/>
<rect x="925.10" y="806.00" width="8.00" height="21.50" fill="#000"/>
<circle cx="804.30" cy="736.60" r="11.60" fill="#fff" stroke="#3a3a3a" stroke-width="2.3"/>
<circle cx="797.30" cy="801.00" r="11.60" fill="#fff" stroke="#3a3a3a" stroke-width="2.3"/>
<circle cx="759.80" cy="824.30" r="11.60" fill="#fff" stroke="#3a3a3a" stroke-width="2.3"/>
<circle cx="822.60" cy="817.30" r="11.60" fill="#fff" stroke="#3a3a3a" stroke-width="2.3"/>
<circle cx="810.40" cy="830.40" r="11.30" fill="#fff" stroke="#474747" stroke-width="2.3"/>
<circle cx="753.30" cy="847.90" r="11.30" fill="#fff" stroke="#474747" stroke-width="2.3"/>
<circle cx="791.20" cy="850.00" r="11.30" fill="#fff" stroke="#474747" stroke-width="2.3"/>
<circle cx="830.00" cy="842.60" r="11.30" fill="#fff" stroke="#474747" stroke-width="2.3"/>
<circle cx="822.60" cy="859.00" r="11.30" fill="#fff" stroke="#474747" stroke-width="2.3"/>
<circle cx="772.00" cy="869.60" r="11.30" fill="#fff" stroke="#474747" stroke-width="2.3"/>
<circle cx="927.90" cy="755.00" r="11.60" fill="#fff" stroke="#3a3a3a" stroke-width="2.3"/>
<circle cx="947.00" cy="801.00" r="11.60" fill="#fff" stroke="#3a3a3a" stroke-width="2.3"/>
<circle cx="908.70" cy="818.20" r="11.60" fill="#fff" stroke="#3a3a3a" stroke-width="2.3"/>
<circle cx="952.30" cy="824.30" r="11.30" fill="#fff" stroke="#474747" stroke-width="2.3"/>
<circle cx="902.20" cy="839.00" r="11.30" fill="#fff" stroke="#474747" stroke-width="2.3"/>
<circle cx="946.20" cy="839.00" r="11.30" fill="#fff" stroke="#474747" stroke-width="2.3"/>
<circle cx="927.00" cy="854.90" r="11.30" fill="#fff" stroke="#474747" stroke-width="2.3"/>
<path d="M792.50 677.90 V651.00 H929.10 V677.90" fill="none" stroke="#000" stroke-width="4"/>
<text x="840.31" y="633.00" font-size="28" text-anchor="start" fill="#000">n.s.</text>
<text x="787.72" y="581.60" font-size="33" text-anchor="start" fill="#000">Session 1</text>
<text x="544.90" y="608.10" font-size="60" text-anchor="start" font-weight="bold" fill="#000">e</text>
<text x="552.70" y="932.50" font-size="33.5" text-anchor="start" transform="rotate(-90 552.70 932.50)" fill="#000">RE Duration</text>
<text x="592.40" y="883.27" font-size="33.5" text-anchor="start" transform="rotate(-90 592.40 883.27)" fill="#000">(sec.)</text>
<line x1="1183.00" y1="610.00" x2="1183.00" y2="987.00" stroke="#000" stroke-width="4.0" stroke-linecap="butt"/>
<line x1="1181.20" y1="611.80" x2="1205.00" y2="611.80" stroke="#000" stroke-width="4.0" stroke-linecap="butt"/>
<line x1="1181.20" y1="653.60" x2="1205.00" y2="653.60" stroke="#000" stroke-width="4.0" stroke-linecap="butt"/>
<line x1="1181.20" y1="695.50" x2="1205.00" y2="695.50" stroke="#000" stroke-width="4.0" stroke-linecap="butt"/>
<line x1="1181.20" y1="736.50" x2="1205.00" y2="736.50" stroke="#000" stroke-width="4.0" stroke-linecap="butt"/>
<line x1="1181.20" y1="778.00" x2="1205.00" y2="778.00" stroke="#000" stroke-width="4.0" stroke-linecap="butt"/>
<line x1="1181.20" y1="819.10" x2="1205.00" y2="819.10" stroke="#000" stroke-width="4.0" stroke-linecap="butt"/>
<line x1="1181.20" y1="860.90" x2="1205.00" y2="860.90" stroke="#000" stroke-width="4.0" stroke-linecap="butt"/>
<line x1="1181.20" y1="902.00" x2="1205.00" y2="902.00" stroke="#000" stroke-width="4.0" stroke-linecap="butt"/>
<line x1="1181.20" y1="943.50" x2="1205.00" y2="943.50" stroke="#000" stroke-width="4.0" stroke-linecap="butt"/>
<text x="1114.63" y="664.60" font-size="27" text-anchor="start" fill="#000">0.16</text>
<text x="1114.84" y="744.80" font-size="27" text-anchor="start" fill="#000">0.12</text>
<text x="1114.63" y="828.40" font-size="27" text-anchor="start" fill="#000">0.08</text>
<text x="1114.23" y="912.70" font-size="27" text-anchor="start" fill="#000">0.04</text>
<text x="1152.03" y="996.20" font-size="27" text-anchor="start" fill="#000">0</text>
<rect x="1220.20" y="774.50" width="13.20" height="210.50" fill="#000"/>
<rect x="1233.40" y="792.30" width="13.20" height="192.70" fill="#0a0aff"/>
<rect x="1224.80" y="753.20" width="4.00" height="22.30" fill="#000"/>
<rect x="1238.00" y="759.90" width="4.00" height="33.40" fill="#0a0aff"/>
<rect x="1266.00" y="763.10" width="13.20" height="221.90" fill="#000"/>
<rect x="1279.20" y="770.50" width="13.20" height="214.50" fill="#0a0aff"/>
<rect x="1270.60" y="748.70" width="4.00" height="15.40" fill="#000"/>
<rect x="1283.80" y="738.00" width="4.00" height="33.50" fill="#0a0aff"/>
<rect x="1312.10" y="853.20" width="13.20" height="131.80" fill="#000"/>
<rect x="1325.30" y="793.20" width="13.20" height="191.80" fill="#0a0aff"/>
<rect x="1316.70" y="838.20" width="4.00" height="16.00" fill="#000"/>
<rect x="1329.90" y="764.60" width="4.00" height="29.60" fill="#0a0aff"/>
<rect x="1358.30" y="842.10" width="13.20" height="142.90" fill="#000"/>
<rect x="1371.50" y="821.90" width="13.20" height="163.10" fill="#0a0aff"/>
<rect x="1362.90" y="819.90" width="4.00" height="23.20" fill="#000"/>
<rect x="1376.10" y="795.20" width="4.00" height="27.70" fill="#0a0aff"/>
<rect x="1404.30" y="763.50" width="13.20" height="221.50" fill="#000"/>
<rect x="1417.50" y="795.50" width="13.20" height="189.50" fill="#0a0aff"/>
<rect x="1408.90" y="756.20" width="4.00" height="8.30" fill="#000"/>
<rect x="1422.10" y="781.60" width="4.00" height="14.90" fill="#0a0aff"/>
<rect x="1450.40" y="827.50" width="13.20" height="157.50" fill="#000"/>
<rect x="1463.60" y="767.10" width="13.20" height="217.90" fill="#0a0aff"/>
<rect x="1455.00" y="804.50" width="4.00" height="24.00" fill="#000"/>
<rect x="1468.20" y="731.80" width="4.00" height="36.30" fill="#0a0aff"/>
<rect x="1496.60" y="815.50" width="13.20" height="169.50" fill="#000"/>
<rect x="1509.80" y="850.00" width="13.20" height="135.00" fill="#0a0aff"/>
<rect x="1501.20" y="791.10" width="4.00" height="25.40" fill="#000"/>
<rect x="1514.40" y="830.00" width="4.00" height="21.00" fill="#0a0aff"/>
<rect x="1542.60" y="780.90" width="13.20" height="204.10" fill="#000"/>
<rect x="1555.80" y="770.00" width="13.20" height="215.00" fill="#0a0aff"/>
<rect x="1547.20" y="763.80" width="4.00" height="18.10" fill="#000"/>
<rect x="1560.40" y="736.20" width="4.00" height="34.80" fill="#0a0aff"/>
<rect x="1588.80" y="788.20" width="13.20" height="196.80" fill="#000"/>
<rect x="1602.00" y="828.20" width="13.20" height="156.80" fill="#0a0aff"/>
<rect x="1593.40" y="770.70" width="4.00" height="18.50" fill="#000"/>
<rect x="1606.60" y="807.50" width="4.00" height="21.70" fill="#0a0aff"/>
<rect x="1635.00" y="854.00" width="13.20" height="131.00" fill="#000"/>
<rect x="1648.20" y="817.20" width="13.20" height="167.80" fill="#0a0aff"/>
<rect x="1639.60" y="845.20" width="4.00" height="9.80" fill="#000"/>
<rect x="1652.80" y="785.00" width="4.00" height="33.20" fill="#0a0aff"/>
<rect x="1680.60" y="839.50" width="13.20" height="145.50" fill="#000"/>
<rect x="1693.80" y="866.60" width="13.20" height="118.40" fill="#0a0aff"/>
<rect x="1685.20" y="823.60" width="4.00" height="16.90" fill="#000"/>
<rect x="1698.40" y="849.60" width="4.00" height="18.00" fill="#0a0aff"/>
<rect x="1727.10" y="851.00" width="13.20" height="134.00" fill="#000"/>
<rect x="1740.30" y="879.90" width="13.20" height="105.10" fill="#0a0aff"/>
<rect x="1731.70" y="827.60" width="4.00" height="24.40" fill="#000"/>
<rect x="1744.90" y="856.80" width="4.00" height="24.10" fill="#0a0aff"/>
<line x1="1181.20" y1="985.00" x2="1762.70" y2="985.00" stroke="#000" stroke-width="3.8" stroke-linecap="butt"/>
<circle cx="1221.30" cy="715.30" r="2.30" fill="#fff" stroke="#000" stroke-width="1.35"/>
<circle cx="1221.30" cy="748.50" r="2.30" fill="#fff" stroke="#000" stroke-width="1.35"/>
<circle cx="1221.30" cy="752.20" r="2.30" fill="#fff" stroke="#000" stroke-width="1.35"/>
<circle cx="1221.30" cy="832.30" r="2.30" fill="#fff" stroke="#000" stroke-width="1.35"/>
<circle cx="1221.30" cy="842.20" r="2.30" fill="#fff" stroke="#000" stroke-width="1.35"/>
<circle cx="1221.30" cy="858.90" r="2.30" fill="#fff" stroke="#000" stroke-width="1.35"/>
<circle cx="1244.50" cy="675.50" r="2.30" fill="#fff" stroke="#1c1c8e" stroke-width="1.4"/>
<circle cx="1244.50" cy="718.90" r="2.30" fill="#fff" stroke="#1c1c8e" stroke-width="1.4"/>
<circle cx="1244.50" cy="735.50" r="2.30" fill="#fff" stroke="#1c1c8e" stroke-width="1.4"/>
<circle cx="1244.50" cy="775.40" r="2.30" fill="#fff" stroke="#1c1c8e" stroke-width="1.4"/>
<circle cx="1244.50" cy="842.20" r="2.30" fill="#fff" stroke="#1c1c8e" stroke-width="1.4"/>
<circle cx="1244.50" cy="859.00" r="2.30" fill="#fff" stroke="#1c1c8e" stroke-width="1.4"/>
<circle cx="1244.50" cy="882.20" r="2.30" fill="#fff" stroke="#1c1c8e" stroke-width="1.4"/>
<circle cx="1244.50" cy="922.10" r="2.30" fill="#fff" stroke="#1c1c8e" stroke-width="1.4"/>
<circle cx="1267.10" cy="691.80" r="2.30" fill="#fff" stroke="#000" stroke-width="1.35"/>
<circle cx="1267.10" cy="761.50" r="2.30" fill="#fff" stroke="#000" stroke-width="1.35"/>
<circle cx="1267.10" cy="765.00" r="2.30" fill="#fff" stroke="#000" stroke-width="1.35"/>
<circle cx="1267.10" cy="771.80" r="2.30" fill="#fff" stroke="#000" stroke-width="1.35"/>
<circle cx="1267.10" cy="775.00" r="2.30" fill="#fff" stroke="#000" stroke-width="1.35"/>
<circle cx="1267.10" cy="812.00" r="2.30" fill="#fff" stroke="#000" stroke-width="1.35"/>
<circle cx="1267.10" cy="815.30" r="2.30" fill="#fff" stroke="#000" stroke-width="1.35"/>
<circle cx="1290.30" cy="608.20" r="2.30" fill="#fff" stroke="#1c1c8e" stroke-width="1.4"/>
<circle cx="1290.30" cy="749.10" r="2.30" fill="#fff" stroke="#1c1c8e" stroke-width="1.4"/>
<circle cx="1290.30" cy="799.50" r="2.30" fill="#fff" stroke="#1c1c8e" stroke-width="1.4"/>
<circle cx="1290.30" cy="802.00" r="2.30" fill="#fff" stroke="#1c1c8e" stroke-width="1.4"/>
<circle cx="1290.30" cy="835.60" r="2.30" fill="#fff" stroke="#1c1c8e" stroke-width="1.4"/>
<circle cx="1290.30" cy="905.60" r="2.30" fill="#fff" stroke="#1c1c8e" stroke-width="1.4"/>
<circle cx="1313.20" cy="772.00" r="2.30" fill="#fff" stroke="#000" stroke-width="1.35"/>
<circle cx="1313.20" cy="838.40" r="2.30" fill="#fff" stroke="#000" stroke-width="1.35"/>
<circle cx="1313.20" cy="841.20" r="2.30" fill="#fff" stroke="#000" stroke-width="1.35"/>
<circle cx="1313.20" cy="858.60" r="2.30" fill="#fff" stroke="#000" stroke-width="1.35"/>
<circle cx="1313.20" cy="862.00" r="2.30" fill="#fff" stroke="#000" stroke-width="1.35"/>
<circle cx="1313.20" cy="898.90" r="2.30" fill="#fff" stroke="#000" stroke-width="1.35"/>
<circle cx="1313.20" cy="909.00" r="2.30" fill="#fff" stroke="#000" stroke-width="1.35"/>
<circle cx="1336.40" cy="688.70" r="2.30" fill="#fff" stroke="#1c1c8e" stroke-width="1.4"/>
<circle cx="1336.40" cy="705.40" r="2.30" fill="#fff" stroke="#1c1c8e" stroke-width="1.4"/>
<circle cx="1336.40" cy="731.90" r="2.30" fill="#fff" stroke="#1c1c8e" stroke-width="1.4"/>
<circle cx="1336.40" cy="812.20" r="2.30" fill="#fff" stroke="#1c1c8e" stroke-width="1.4"/>
<circle cx="1336.40" cy="832.10" r="2.30" fill="#fff" stroke="#1c1c8e" stroke-width="1.4"/>
<circle cx="1336.40" cy="849.10" r="2.30" fill="#fff" stroke="#1c1c8e" stroke-width="1.4"/>
<circle cx="1336.40" cy="855.30" r="2.30" fill="#fff" stroke="#1c1c8e" stroke-width="1.4"/>
<circle cx="1336.40" cy="875.70" r="2.30" fill="#fff" stroke="#1c1c8e" stroke-width="1.4"/>
<circle cx="1359.40" cy="731.90" r="2.30" fill="#fff" stroke="#000" stroke-width="1.35"/>
<circle cx="1359.40" cy="775.20" r="2.30" fill="#fff" stroke="#000" stroke-width="1.35"/>
<circle cx="1359.40" cy="834.40" r="2.30" fill="#fff" stroke="#000" stroke-width="1.35"/>
<circle cx="1359.40" cy="838.10" r="2.30" fill="#fff" stroke="#000" stroke-width="1.35"/>
<circle cx="1359.40" cy="879.00" r="2.30" fill="#fff" stroke="#000" stroke-width="1.35"/>
<circle cx="1359.40" cy="898.90" r="2.30" fill="#fff" stroke="#000" stroke-width="1.35"/>
<circle cx="1359.40" cy="902.40" r="2.30" fill="#fff" stroke="#000" stroke-width="1.35"/>
<circle cx="1382.60" cy="711.90" r="2.30" fill="#fff" stroke="#1c1c8e" stroke-width="1.4"/>
<circle cx="1382.60" cy="751.80" r="2.30" fill="#fff" stroke="#1c1c8e" stroke-width="1.4"/>
<circle cx="1382.60" cy="785.40" r="2.30" fill="#fff" stroke="#1c1c8e" stroke-width="1.4"/>
<circle cx="1382.60" cy="795.60" r="2.30" fill="#fff" stroke="#1c1c8e" stroke-width="1.4"/>
<circle cx="1382.60" cy="838.90" r="2.30" fill="#fff" stroke="#1c1c8e" stroke-width="1.4"/>
<circle cx="1382.60" cy="892.20" r="2.30" fill="#fff" stroke="#1c1c8e" stroke-width="1.4"/>
<circle cx="1382.60" cy="939.30" r="2.30" fill="#fff" stroke="#1c1c8e" stroke-width="1.4"/>
<circle cx="1405.40" cy="722.00" r="2.30" fill="#fff" stroke="#000" stroke-width="1.35"/>
<circle cx="1405.40" cy="748.20" r="2.30" fill="#fff" stroke="#000" stroke-width="1.35"/>
<circle cx="1405.40" cy="751.10" r="2.30" fill="#fff" stroke="#000" stroke-width="1.35"/>
<circle cx="1405.40" cy="769.30" r="2.30" fill="#fff" stroke="#000" stroke-width="1.35"/>
<circle cx="1405.40" cy="771.10" r="2.30" fill="#fff" stroke="#000" stroke-width="1.35"/>
<circle cx="1405.40" cy="791.80" r="2.30" fill="#fff" stroke="#000" stroke-width="1.35"/>
<circle cx="1428.60" cy="750.00" r="2.30" fill="#fff" stroke="#1c1c8e" stroke-width="1.4"/>
<circle cx="1428.60" cy="752.50" r="2.30" fill="#fff" stroke="#1c1c8e" stroke-width="1.4"/>
<circle cx="1428.60" cy="791.10" r="2.30" fill="#fff" stroke="#1c1c8e" stroke-width="1.4"/>
<circle cx="1428.60" cy="794.40" r="2.30" fill="#fff" stroke="#1c1c8e" stroke-width="1.4"/>
<circle cx="1428.60" cy="825.60" r="2.30" fill="#fff" stroke="#1c1c8e" stroke-width="1.4"/>
<circle cx="1428.60" cy="855.50" r="2.30" fill="#fff" stroke="#1c1c8e" stroke-width="1.4"/>
<circle cx="1451.50" cy="715.50" r="2.30" fill="#fff" stroke="#000" stroke-width="1.35"/>
<circle cx="1451.50" cy="771.80" r="2.30" fill="#fff" stroke="#000" stroke-width="1.35"/>
<circle cx="1451.50" cy="811.10" r="2.30" fill="#fff" stroke="#000" stroke-width="1.35"/>
<circle cx="1451.50" cy="814.70" r="2.30" fill="#fff" stroke="#000" stroke-width="1.35"/>
<circle cx="1451.50" cy="859.10" r="2.30" fill="#fff" stroke="#000" stroke-width="1.35"/>
<circle cx="1451.50" cy="899.10" r="2.30" fill="#fff" stroke="#000" stroke-width="1.35"/>
<circle cx="1451.50" cy="911.80" r="2.30" fill="#fff" stroke="#000" stroke-width="1.35"/>
<circle cx="1474.70" cy="605.30" r="2.30" fill="#fff" stroke="#1c1c8e" stroke-width="1.4"/>
<circle cx="1474.70" cy="642.00" r="2.30" fill="#fff" stroke="#1c1c8e" stroke-width="1.4"/>
<circle cx="1474.70" cy="771.80" r="2.30" fill="#fff" stroke="#1c1c8e" stroke-width="1.4"/>
<circle cx="1474.70" cy="795.50" r="2.30" fill="#fff" stroke="#1c1c8e" stroke-width="1.4"/>
<circle cx="1474.70" cy="808.90" r="2.30" fill="#fff" stroke="#1c1c8e" stroke-width="1.4"/>
<circle cx="1474.70" cy="818.40" r="2.30" fill="#fff" stroke="#1c1c8e" stroke-width="1.4"/>
<circle cx="1474.70" cy="885.30" r="2.30" fill="#fff" stroke="#1c1c8e" stroke-width="1.4"/>
<circle cx="1497.70" cy="718.40" r="2.30" fill="#fff" stroke="#000" stroke-width="1.35"/>
<circle cx="1497.70" cy="774.40" r="2.30" fill="#fff" stroke="#000" stroke-width="1.35"/>
<circle cx="1497.70" cy="778.40" r="2.30" fill="#fff" stroke="#000" stroke-width="1.35"/>
<circle cx="1497.70" cy="791.80" r="2.30" fill="#fff" stroke="#000" stroke-width="1.35"/>
<circle cx="1497.70" cy="815.50" r="2.30" fill="#fff" stroke="#000" stroke-width="1.35"/>
<circle cx="1497.70" cy="859.10" r="2.30" fill="#fff" stroke="#000" stroke-width="1.35"/>
<circle cx="1497.70" cy="939.10" r="2.30" fill="#fff" stroke="#000" stroke-width="1.35"/>
<circle cx="1520.90" cy="765.30" r="2.30" fill="#fff" stroke="#1c1c8e" stroke-width="1.4"/>
<circle cx="1520.90" cy="795.50" r="2.30" fill="#fff" stroke="#1c1c8e" stroke-width="1.4"/>
<circle cx="1520.90" cy="851.80" r="2.30" fill="#fff" stroke="#1c1c8e" stroke-width="1.4"/>
<circle cx="1520.90" cy="859.10" r="2.30" fill="#fff" stroke="#1c1c8e" stroke-width="1.4"/>
<circle cx="1520.90" cy="890.00" r="2.30" fill="#fff" stroke="#1c1c8e" stroke-width="1.4"/>
<circle cx="1520.90" cy="891.80" r="2.30" fill="#fff" stroke="#1c1c8e" stroke-width="1.4"/>
<circle cx="1520.90" cy="912.50" r="2.30" fill="#fff" stroke="#1c1c8e" stroke-width="1.4"/>
<circle cx="1543.70" cy="698.40" r="2.30" fill="#fff" stroke="#000" stroke-width="1.35"/>
<circle cx="1543.70" cy="725.30" r="2.30" fill="#fff" stroke="#000" stroke-width="1.35"/>
<circle cx="1543.70" cy="782.00" r="2.30" fill="#fff" stroke="#000" stroke-width="1.35"/>
<circle cx="1543.70" cy="791.80" r="2.30" fill="#fff" stroke="#000" stroke-width="1.35"/>
<circle cx="1543.70" cy="794.70" r="2.30" fill="#fff" stroke="#000" stroke-width="1.35"/>
<circle cx="1543.70" cy="855.50" r="2.30" fill="#fff" stroke="#000" stroke-width="1.35"/>
<circle cx="1566.90" cy="605.30" r="2.30" fill="#fff" stroke="#1c1c8e" stroke-width="1.4"/>
<circle cx="1566.90" cy="691.80" r="2.30" fill="#fff" stroke="#1c1c8e" stroke-width="1.4"/>
<circle cx="1566.90" cy="742.00" r="2.30" fill="#fff" stroke="#1c1c8e" stroke-width="1.4"/>
<circle cx="1566.90" cy="771.80" r="2.30" fill="#fff" stroke="#1c1c8e" stroke-width="1.4"/>
<circle cx="1566.90" cy="831.80" r="2.30" fill="#fff" stroke="#1c1c8e" stroke-width="1.4"/>
<circle cx="1566.90" cy="855.50" r="2.30" fill="#fff" stroke="#1c1c8e" stroke-width="1.4"/>
<circle cx="1566.90" cy="875.50" r="2.30" fill="#fff" stroke="#1c1c8e" stroke-width="1.4"/>
<circle cx="1589.90" cy="682.00" r="2.30" fill="#fff" stroke="#000" stroke-width="1.35"/>
<circle cx="1589.90" cy="768.20" r="2.30" fill="#fff" stroke="#000" stroke-width="1.35"/>
<circle cx="1589.90" cy="781.60" r="2.30" fill="#fff" stroke="#000" stroke-width="1.35"/>
<circle cx="1589.90" cy="786.40" r="2.30" fill="#fff" stroke="#000" stroke-width="1.35"/>
<circle cx="1589.90" cy="808.90" r="2.30" fill="#fff" stroke="#000" stroke-width="1.35"/>
<circle cx="1589.90" cy="827.10" r="2.30" fill="#fff" stroke="#000" stroke-width="1.35"/>
<circle cx="1589.90" cy="829.30" r="2.30" fill="#fff" stroke="#000" stroke-width="1.35"/>
<circle cx="1613.10" cy="721.60" r="2.30" fill="#fff" stroke="#1c1c8e" stroke-width="1.4"/>
<circle cx="1613.10" cy="791.80" r="2.30" fill="#fff" stroke="#1c1c8e" stroke-width="1.4"/>
<circle cx="1613.10" cy="795.50" r="2.30" fill="#fff" stroke="#1c1c8e" stroke-width="1.4"/>
<circle cx="1613.10" cy="825.30" r="2.30" fill="#fff" stroke="#1c1c8e" stroke-width="1.4"/>
<circle cx="1613.10" cy="882.70" r="2.30" fill="#fff" stroke="#1c1c8e" stroke-width="1.4"/>
<circle cx="1613.10" cy="886.40" r="2.30" fill="#fff" stroke="#1c1c8e" stroke-width="1.4"/>
<circle cx="1613.10" cy="902.00" r="2.30" fill="#fff" stroke="#1c1c8e" stroke-width="1.4"/>
<circle cx="1636.10" cy="811.70" r="2.30" fill="#fff" stroke="#000" stroke-width="1.35"/>
<circle cx="1636.10" cy="842.00" r="2.30" fill="#fff" stroke="#000" stroke-width="1.35"/>
<circle cx="1636.10" cy="845.10" r="2.30" fill="#fff" stroke="#000" stroke-width="1.35"/>
<circle cx="1636.10" cy="855.20" r="2.30" fill="#fff" stroke="#000" stroke-width="1.35"/>
<circle cx="1636.10" cy="883.10" r="2.30" fill="#fff" stroke="#000" stroke-width="1.35"/>
<circle cx="1659.30" cy="688.90" r="2.30" fill="#fff" stroke="#1c1c8e" stroke-width="1.4"/>
<circle cx="1659.30" cy="771.80" r="2.30" fill="#fff" stroke="#1c1c8e" stroke-width="1.4"/>
<circle cx="1659.30" cy="859.00" r="2.30" fill="#fff" stroke="#1c1c8e" stroke-width="1.4"/>
<circle cx="1659.30" cy="889.00" r="2.30" fill="#fff" stroke="#1c1c8e" stroke-width="1.4"/>
<circle cx="1659.30" cy="891.90" r="2.30" fill="#fff" stroke="#1c1c8e" stroke-width="1.4"/>
<circle cx="1659.30" cy="922.00" r="2.30" fill="#fff" stroke="#1c1c8e" stroke-width="1.4"/>
<circle cx="1681.70" cy="768.60" r="2.30" fill="#fff" stroke="#000" stroke-width="1.35"/>
<circle cx="1681.70" cy="795.10" r="2.30" fill="#fff" stroke="#000" stroke-width="1.35"/>
<circle cx="1681.70" cy="841.70" r="2.30" fill="#fff" stroke="#000" stroke-width="1.35"/>
<circle cx="1681.70" cy="851.50" r="2.30" fill="#fff" stroke="#000" stroke-width="1.35"/>
<circle cx="1681.70" cy="854.70" r="2.30" fill="#fff" stroke="#000" stroke-width="1.35"/>
<circle cx="1681.70" cy="895.30" r="2.30" fill="#fff" stroke="#000" stroke-width="1.35"/>
<circle cx="1704.90" cy="785.00" r="2.30" fill="#fff" stroke="#1c1c8e" stroke-width="1.4"/>
<circle cx="1704.90" cy="824.90" r="2.30" fill="#fff" stroke="#1c1c8e" stroke-width="1.4"/>
<circle cx="1704.90" cy="844.90" r="2.30" fill="#fff" stroke="#1c1c8e" stroke-width="1.4"/>
<circle cx="1704.90" cy="855.00" r="2.30" fill="#fff" stroke="#1c1c8e" stroke-width="1.4"/>
<circle cx="1704.90" cy="865.30" r="2.30" fill="#fff" stroke="#1c1c8e" stroke-width="1.4"/>
<circle cx="1704.90" cy="891.90" r="2.30" fill="#fff" stroke="#1c1c8e" stroke-width="1.4"/>
<circle cx="1704.90" cy="965.00" r="2.30" fill="#fff" stroke="#1c1c8e" stroke-width="1.4"/>
<circle cx="1728.20" cy="708.80" r="2.30" fill="#fff" stroke="#000" stroke-width="1.35"/>
<circle cx="1728.20" cy="815.10" r="2.30" fill="#fff" stroke="#000" stroke-width="1.35"/>
<circle cx="1728.20" cy="841.70" r="2.30" fill="#fff" stroke="#000" stroke-width="1.35"/>
<circle cx="1728.20" cy="861.60" r="2.30" fill="#fff" stroke="#000" stroke-width="1.35"/>
<circle cx="1728.20" cy="875.40" r="2.30" fill="#fff" stroke="#000" stroke-width="1.35"/>
<circle cx="1728.20" cy="921.90" r="2.30" fill="#fff" stroke="#000" stroke-width="1.35"/>
<circle cx="1728.20" cy="925.40" r="2.30" fill="#fff" stroke="#000" stroke-width="1.35"/>
<circle cx="1751.40" cy="771.80" r="2.30" fill="#fff" stroke="#1c1c8e" stroke-width="1.4"/>
<circle cx="1751.40" cy="841.70" r="2.30" fill="#fff" stroke="#1c1c8e" stroke-width="1.4"/>
<circle cx="1751.40" cy="855.00" r="2.30" fill="#fff" stroke="#1c1c8e" stroke-width="1.4"/>
<circle cx="1751.40" cy="861.60" r="2.30" fill="#fff" stroke="#1c1c8e" stroke-width="1.4"/>
<circle cx="1751.40" cy="891.90" r="2.30" fill="#fff" stroke="#1c1c8e" stroke-width="1.4"/>
<circle cx="1751.40" cy="948.50" r="2.30" fill="#fff" stroke="#1c1c8e" stroke-width="1.4"/>
<circle cx="1751.40" cy="985.70" r="2.30" fill="#fff" stroke="#1c1c8e" stroke-width="1.4"/>
<circle cx="1441.20" cy="771.80" r="2.30" fill="#fff" stroke="#1c1c8e" stroke-width="1.4"/>
<text x="1237.50" y="1011.20" font-size="20" text-anchor="end" transform="rotate(-52 1237.50 1011.20)" fill="#000">0.5 - 0.6</text>
<text x="1284.25" y="1011.20" font-size="20" text-anchor="end" transform="rotate(-52 1284.25 1011.20)" fill="#000">0.6 - 0.7</text>
<text x="1331.00" y="1011.20" font-size="20" text-anchor="end" transform="rotate(-52 1331.00 1011.20)" fill="#000">0.7 - 0.8</text>
<text x="1377.75" y="1011.20" font-size="20" text-anchor="end" transform="rotate(-52 1377.75 1011.20)" fill="#000">0.8 - 0.9</text>
<text x="1424.50" y="1011.20" font-size="20" text-anchor="end" transform="rotate(-52 1424.50 1011.20)" fill="#000">0.9 - 1.0</text>
<text x="1471.25" y="1011.20" font-size="20" text-anchor="end" transform="rotate(-52 1471.25 1011.20)" fill="#000">1.0 - 1.1</text>
<text x="1518.00" y="1011.20" font-size="20" text-anchor="end" transform="rotate(-52 1518.00 1011.20)" fill="#000">1.1 - 1.2</text>
<text x="1564.75" y="1011.20" font-size="20" text-anchor="end" transform="rotate(-52 1564.75 1011.20)" fill="#000">1.2 - 1.3</text>
<text x="1611.50" y="1011.20" font-size="20" text-anchor="end" transform="rotate(-52 1611.50 1011.20)" fill="#000">1.3 - 1.4</text>
<text x="1658.25" y="1011.20" font-size="20" text-anchor="end" transform="rotate(-52 1658.25 1011.20)" fill="#000">1.4 - 1.5</text>
<text x="1705.00" y="1011.20" font-size="20" text-anchor="end" transform="rotate(-52 1705.00 1011.20)" fill="#000">1.5 - 1.6</text>
<text x="1751.75" y="1011.20" font-size="20" text-anchor="end" transform="rotate(-52 1751.75 1011.20)" fill="#000">1.6 - 1.7</text>
<text x="1399.92" y="544.40" font-size="33" text-anchor="start" fill="#000">Session 1</text>
<text x="1372.55" y="568.30" font-size="20" text-anchor="start" fill="#000">(subthreshold velocity)</text>
<text x="1085.45" y="607.60" font-size="60" text-anchor="start" font-weight="bold" fill="#000">f</text>
<text x="1095.70" y="920.86" font-size="33.5" text-anchor="start" transform="rotate(-90 1095.70 920.86)" fill="#000">Probability</text>
<text x="1399.89" y="1120.40" font-size="33.5" text-anchor="start" fill="#000">Speed (cm/s)</text>
<rect x="1681.10" y="547.60" width="26.60" height="26.40" fill="#000"/>
<rect x="1681.10" y="589.80" width="26.60" height="26.20" fill="#0a0aff"/>
<text x="1725.54" y="569.30" font-size="33" text-anchor="start" fill="#000">WT</text>
<text x="1728.38" y="615.60" font-size="33" text-anchor="start" font-style="italic" fill="#000">16p11.2</text>
<text x="1850.70" y="601.00" font-size="32" text-anchor="start" fill="#000" style="stroke-width:0.75px">+/-</text>
<text x="1678.1" y="665" font-size="27">2-way ANOVA: <tspan font-style="italic">p</tspan> &gt; 0.05</text>
</svg>
</body></html>
